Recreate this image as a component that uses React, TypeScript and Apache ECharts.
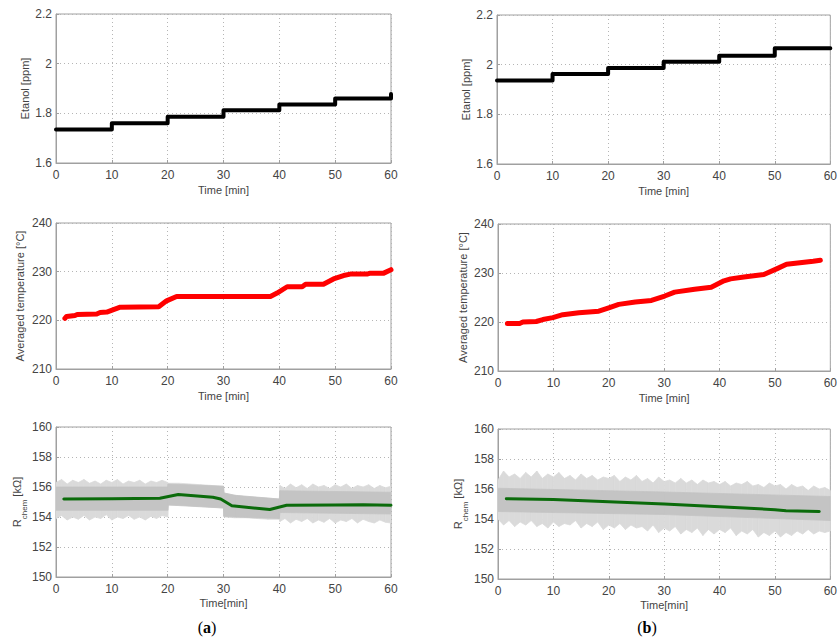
import React, { useEffect, useRef } from "react";
import * as echarts from "echarts";

// ---- Etanol steps (x = min, y = ppm) ----
const etanolAX = [0, 10, 20, 30, 40, 50, 60, 60];
const etanolAY = [1.735, 1.76, 1.786, 1.812, 1.836, 1.86, 1.86, 1.878];
const etanolBX = [0, 10, 20, 30, 40, 50, 60];
const etanolBY = [1.936, 1.962, 1.987, 2.012, 2.036, 2.066, 2.066];

// ---- Averaged temperature ----
const tempAX = [1.6, 1.9, 3.4, 3.8, 7.3, 7.9, 9.1, 10.3, 11.5, 18.4, 19.8, 21.6, 38.4, 39.6, 41.4, 44.1, 44.7, 47.9, 49.7, 51.5, 52.7, 55.7, 56.3, 58.7, 60];
const tempAY = [220.4, 220.8, 221.0, 221.2, 221.3, 221.6, 221.7, 222.2, 222.7, 222.8, 224.0, 224.9, 224.9, 225.6, 226.9, 226.9, 227.4, 227.4, 228.5, 229.2, 229.5, 229.5, 229.7, 229.7, 230.4];
const tempBX = [1.7, 3.9, 4.5, 6.9, 8.1, 9.9, 11.7, 14.6, 18.2, 20, 21.8, 24.8, 27.7, 30.1, 31.9, 35.5, 38.5, 40.8, 42, 44.4, 48, 50.4, 52.1, 54.5, 56.9, 58.2];
const tempBY = [219.7, 219.7, 220.0, 220.1, 220.5, 220.9, 221.5, 221.9, 222.2, 222.9, 223.6, 224.1, 224.4, 225.3, 226.1, 226.7, 227.1, 228.4, 228.8, 229.2, 229.7, 230.9, 231.8, 232.1, 232.4, 232.6];

// ---- R_chem smoothed (green) ----
const rAX = [1.4, 10, 18.6, 21.9, 28.1, 29.5, 31.5, 38.3, 41.3, 50, 55, 60];
const rAY = [155.2, 155.22, 155.25, 155.5, 155.32, 155.2, 154.75, 154.5, 154.78, 154.8, 154.82, 154.78];
const rBX = [1.5, 10, 20, 30, 40, 50, 52, 58];
const rBY = [155.35, 155.3, 155.15, 155.0, 154.82, 154.62, 154.55, 154.5];

// ---- R_chem raw signal envelopes (grey) ----
const bandAOuterX = [0, 1, 2, 3, 4, 5, 6, 7, 8, 9, 10, 11, 12, 13, 14, 15, 16, 17, 18, 19, 20, 20.1, 22, 24, 26, 28, 30, 30.1, 32, 34, 36, 38, 40, 40.1, 41, 42, 43, 44, 45, 46, 47, 48, 49, 50, 51, 52, 53, 54, 55, 56, 57, 58, 59, 60];
const bandAOuterHi = [156.3, 156.5, 156.2, 156.45, 156.3, 156.5, 156.25, 156.4, 156.2, 156.45, 156.3, 156.5, 156.2, 156.4, 156.3, 156.45, 156.2, 156.4, 156.3, 156.45, 156.3, 156.25, 156.25, 156.2, 156.15, 156.1, 156.05, 155.6, 155.45, 155.35, 155.3, 155.25, 155.2, 156.1, 155.9, 156.2, 155.95, 156.15, 155.9, 156.2, 156.0, 156.1, 155.9, 156.15, 156.0, 156.2, 155.9, 156.1, 156.0, 156.15, 155.9, 156.1, 155.95, 156.05];
const bandAOuterLo = [153.9, 154.1, 153.8, 154.0, 153.85, 154.1, 153.8, 154.0, 153.9, 154.15, 153.8, 154.0, 153.9, 154.1, 153.85, 154.0, 153.8, 154.05, 153.9, 154.1, 154.0, 154.8, 154.8, 154.75, 154.7, 154.65, 154.6, 154.0, 153.95, 153.95, 153.9, 153.85, 153.85, 153.7, 153.9, 153.6, 153.85, 153.7, 153.9, 153.6, 153.8, 153.65, 153.9, 153.6, 153.8, 153.7, 153.9, 153.6, 153.85, 153.7, 153.6, 153.8, 153.65, 153.6];
const bandAInnerX = [0, 20, 20.1, 30, 30.1, 32, 40, 40.1, 60];
const bandAInnerHi = [156.0, 156.0, 156.2, 156.05, 155.6, 155.45, 155.2, 155.75, 155.65];
const bandAInnerLo = [154.45, 154.45, 154.8, 154.6, 154.05, 154.0, 153.9, 154.3, 154.2];

const bandBOuterX = [0, 1, 2, 3, 4, 5, 6, 7, 8, 9, 10, 11, 12, 13, 14, 15, 16, 17, 18, 19, 20, 21, 22, 23, 24, 25, 26, 27, 28, 29, 30, 31, 32, 33, 34, 35, 36, 37, 38, 39, 40, 41, 42, 43, 44, 45, 46, 47, 48, 49, 50, 51, 52, 53, 54, 55, 56, 57, 58, 59, 60];
const bandBOuterHi = [156.6, 157.2, 156.8, 157.0, 156.7, 157.1, 156.8, 157.2, 156.7, 157.0, 156.8, 157.1, 156.7, 156.9, 156.6, 157.0, 156.7, 156.9, 156.6, 156.8, 156.7, 156.9, 156.5, 156.8, 156.6, 156.9, 156.5, 156.7, 156.4, 156.8, 156.5, 156.6, 156.4, 156.7, 156.4, 156.6, 156.3, 156.6, 156.4, 156.5, 156.3, 156.5, 156.2, 156.4, 156.3, 156.5, 156.2, 156.3, 156.1, 156.4, 156.2, 156.3, 156.0, 156.3, 156.1, 156.2, 155.9, 156.2, 156.0, 156.1, 155.9];
const bandBOuterLo = [154.0, 153.6, 153.9, 153.5, 153.8, 153.6, 153.9, 153.5, 153.7, 153.4, 153.8, 153.5, 153.7, 153.6, 153.9, 153.4, 153.7, 153.5, 153.8, 153.3, 153.6, 153.4, 153.7, 153.3, 153.6, 153.4, 153.5, 153.2, 153.6, 153.1, 153.4, 153.2, 153.5, 153.0, 153.3, 153.1, 153.4, 152.9, 153.3, 153.0, 153.3, 153.1, 153.4, 152.9, 153.2, 153.0, 153.3, 152.8, 153.1, 152.9, 153.2, 152.8, 153.1, 152.9, 153.2, 153.0, 153.3, 153.0, 153.2, 153.1, 153.2];
const bandBInnerX = [0, 30, 60];
const bandBInnerHi = [156.05, 155.8, 155.5];
const bandBInnerLo = [154.5, 154.3, 153.9];

// ---- axis labels / ticks ----
const xName = "Time [min]";
const xNameBottom = "Time[min]";
const etanolName = "Etanol [ppm]";
const tempName = "Averaged temperature [°C]";
const rName = "{r|R}{s|chem}{r| [kΩ]}";
const panelLabels = ["a", "b"];

const FONT = "'Liberation Sans', Arial, sans-serif";
const TXT = "#444444";

const pairs = (xs: number[], ys: number[]) => xs.map((x, i) => [x, ys[i]]);

export default function App() {
  const ref = useRef<HTMLDivElement>(null);
  useEffect(() => {
    if (!ref.current) return;
    const chart = echarts.init(ref.current, null, { renderer: "svg" });

    const grids = [
      { left: 56, top: 14, width: 335, height: 149 },
      { left: 497, top: 15, width: 337, height: 149 },
      { left: 56, top: 223, width: 335, height: 146 },
      { left: 498, top: 224, width: 336, height: 147 },
      { left: 56, top: 427, width: 335, height: 150 },
      { left: 498, top: 429, width: 336, height: 150 },
    ].map((g) => ({ ...g, show: true, borderColor: "#a0a0a0", borderWidth: 1, containLabel: false }));

    const common = {
      axisLine: { show: true, lineStyle: { color: "#a0a0a0", width: 1 } },
      axisTick: { show: true, inside: true, length: 3, lineStyle: { color: "#a0a0a0" } },
      splitLine: { show: true, lineStyle: { color: "#b5b5b5", type: [1, 3] as any, width: 1 } },
      axisLabel: { color: TXT, fontSize: 12, fontFamily: FONT },
      nameTextStyle: { color: TXT, fontSize: 11, fontFamily: FONT },
      nameLocation: "middle" as const,
    };

    const xAxes = [0, 1, 2, 3, 4, 5].map((i) => ({
      ...common,
      type: "value" as const,
      gridIndex: i,
      min: 0,
      max: 60,
      interval: 10,
      name: i >= 4 ? xNameBottom : xName,
      nameGap: i >= 4 ? 20 : 21,
      axisLabel: { ...common.axisLabel, margin: 6 },
    }));

    const yDefs = [
      { min: 1.6, max: 2.2, interval: 0.2, name: etanolName, gap: 26 },
      { min: 1.6, max: 2.2, interval: 0.2, name: etanolName, gap: 26 },
      { min: 210, max: 240, interval: 10, name: tempName, gap: 31 },
      { min: 210, max: 240, interval: 10, name: tempName, gap: 30 },
      { min: 150, max: 160, interval: 2, name: rName, gap: 28 },
      { min: 150, max: 160, interval: 2, name: rName, gap: 29 },
    ];
    const yAxes = yDefs.map((d, i) => ({
      ...common,
      type: "value" as const,
      gridIndex: i,
      min: d.min,
      max: d.max,
      interval: d.interval,
      name: d.name,
      nameGap: d.gap,
      axisLabel: { ...common.axisLabel, margin: 4 },
      nameTextStyle: {
        ...common.nameTextStyle,
        rich: {
          r: { fontSize: 11, color: TXT, fontFamily: FONT, lineHeight: 17, verticalAlign: "top" },
          s: { fontSize: 8, color: TXT, fontFamily: FONT, lineHeight: 17, verticalAlign: "bottom" },
        },
      },
    }));

    const lineSeries = (idx: number, xs: number[], ys: number[], color: string, width: number, extra: any = {}) => ({
      type: "line",
      xAxisIndex: idx,
      yAxisIndex: idx,
      data: pairs(xs, ys),
      symbol: "none",
      lineStyle: { color, width, cap: "round", join: "round" },
      silent: true,
      z: 5,
      ...extra,
    });

    // band drawn as quads between consecutive envelope points
    const band = (idx: number, xs: number[], lo: number[], hi: number[], color: string, z: number) => ({
      type: "custom",
      xAxisIndex: idx,
      yAxisIndex: idx,
      silent: true,
      z,
      clip: true,
      data: xs.map((x, i) => [x, lo[i], hi[i]]),
      encode: { x: 0, y: [1, 2] },
      renderItem: (params: any, api: any) => {
        const i = params.dataIndex;
        if (i >= xs.length - 1) return null;
        const p1 = api.coord([xs[i], lo[i]]);
        const p2 = api.coord([xs[i + 1], lo[i + 1]]);
        const p3 = api.coord([xs[i + 1], hi[i + 1]]);
        const p4 = api.coord([xs[i], hi[i]]);
        return {
          type: "polygon",
          shape: { points: [p1, p2, p3, p4] },
          style: { fill: color, stroke: color, lineWidth: 0.8 },
        };
      },
    });

    const series: any[] = [
      lineSeries(0, etanolAX, etanolAY, "#000000", 4, { step: "end" }),
      lineSeries(1, etanolBX, etanolBY, "#000000", 4, { step: "end" }),
      lineSeries(2, tempAX, tempAY, "#ff0000", 5),
      lineSeries(3, tempBX, tempBY, "#ff0000", 5),
      band(4, bandAOuterX, bandAOuterLo, bandAOuterHi, "#dadada", 2),
      band(4, bandAInnerX, bandAInnerLo, bandAInnerHi, "#c4c4c4", 3),
      lineSeries(4, rAX, rAY, "#0b6b0b", 3),
      band(5, bandBOuterX, bandBOuterLo, bandBOuterHi, "#dadada", 2),
      band(5, bandBInnerX, bandBInnerLo, bandBInnerHi, "#c4c4c4", 3),
      lineSeries(5, rBX, rBY, "#0b6b0b", 3),
    ];

    chart.setOption({
      animation: false,
      backgroundColor: "#ffffff",
      grid: grids,
      xAxis: xAxes,
      yAxis: yAxes,
      series,
      graphic: panelLabels.map((l, i) => ({
        type: "text",
        x: i === 0 ? 207 : 647,
        y: 627,
        style: {
          text: `{p|(}{b|${l}}{p|)}`,
          align: "center",
          verticalAlign: "middle",
          rich: {
            p: { fontSize: 16, fontFamily: "'Liberation Serif', 'Times New Roman', serif", fill: "#000" },
            b: { fontSize: 16, fontWeight: "bold", fontFamily: "'Liberation Serif', 'Times New Roman', serif", fill: "#000" },
          },
        },
      })),
    });
    return () => chart.dispose();
  }, []);
  return <div ref={ref} style={{ position: "absolute", left: 0, top: 0, width: 840, height: 641 }} />;
}
